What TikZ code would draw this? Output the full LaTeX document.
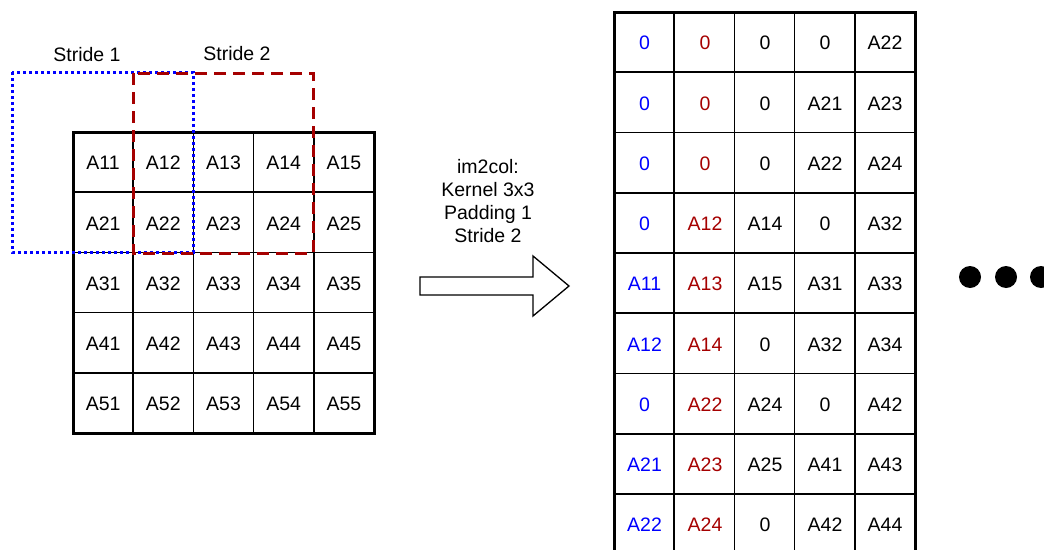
\documentclass[tikz,border=0pt]{standalone}
\usepackage{fontspec}
\setmainfont{Liberation Sans}
\begin{document}
\begin{tikzpicture}[x=1pt,y=-1pt,
  cell/.style={inner sep=0pt, font=\fontsize{19.5}{22}\selectfont},
  thin grid/.style={line width=1.7pt, draw=black},
  thick frame/.style={line width=3pt, draw=black},
  redtxt/.style={text={rgb,255:red,165;green,0;blue,0}},
  bluetxt/.style={text={rgb,255:red,0;green,0;blue,255}},
  label/.style={inner sep=0pt, font=\fontsize{19.5}{23.3}\selectfont, align=center}]
\definecolor{winred}{RGB}{165,0,0}
\useasboundingbox (0,0) rectangle (1044,549);
\clip (0,0) rectangle (1044,549);

% ---- input matrix 5x5 ----
\foreach \i in {1,...,4}{
  \draw[thin grid] ({73+60.2*\i},132) -- ({73+60.2*\i},433);
  \draw[thin grid] (73,{132+60.2*\i}) -- (374,{132+60.2*\i});
}
\draw[thick frame] (73,132) rectangle (374,433);
\foreach \r in {1,...,5}{
  \foreach \c in {1,...,5}{
    \node[cell] (in-\r-\c) at ({73+60.2*(\c-0.5)},{133+60.2*(\r-0.5)}) {A\r\c};
  }
}

% ---- kernel windows ----
\draw[blue, line width=3pt, dash pattern=on 3pt off 3pt] (12,72) rectangle (193,252);
\draw[winred, line width=3pt, dash pattern=on 12pt off 7pt] (133,73) rectangle (313,253);
\node[label] (s1) at (87,55) {Stride 1};
\node[label] (s2) at (237,54) {Stride 2};

% ---- transform arrow ----
\node[label] (cap) at (488,201) {im2col:\\Kernel 3x3\\Padding 1\\Stride 2};
\draw[line width=1.3pt, fill=white] (420,277) -- (533,277) -- (533,256) -- (569,286)
  -- (533,316) -- (533,295) -- (420,295) -- cycle;

% ---- im2col output matrix ----
\foreach \i in {1,...,4}{
  \draw[thin grid] ({614+60.2*\i},12) -- ({614+60.2*\i},560);
}
\foreach \i in {1,...,9}{
  \draw[thin grid] (614,{12+60.25*\i}) -- (915,{12+60.25*\i});
}
\draw[thick frame] (614,560) -- (614,12) -- (915,12) -- (915,560);
\foreach [count=\r] \a/\b/\c/\d/\e in {
  0/0/0/0/A22, 0/0/0/A21/A23, 0/0/0/A22/A24, 0/A12/A14/0/A32,
  A11/A13/A15/A31/A33, A12/A14/0/A32/A34, 0/A22/A24/0/A42,
  A21/A23/A25/A41/A43, A22/A24/0/A42/A44}{
  \pgfmathsetmacro{\yy}{13+60.25*(\r-0.5)}
  \node[cell,bluetxt] (out-\r-1) at (644.5,\yy) {\a};
  \node[cell,redtxt]  (out-\r-2) at (705,\yy) {\b};
  \node[cell]         (out-\r-3) at (765,\yy) {\c};
  \node[cell]         (out-\r-4) at (825,\yy) {\d};
  \node[cell]         (out-\r-5) at (885,\yy) {\e};
}

% ---- continuation dots ----
\foreach \x in {970,1006,1041}{
  \fill (\x,277) circle (11);
}
\end{tikzpicture}
\end{document}
